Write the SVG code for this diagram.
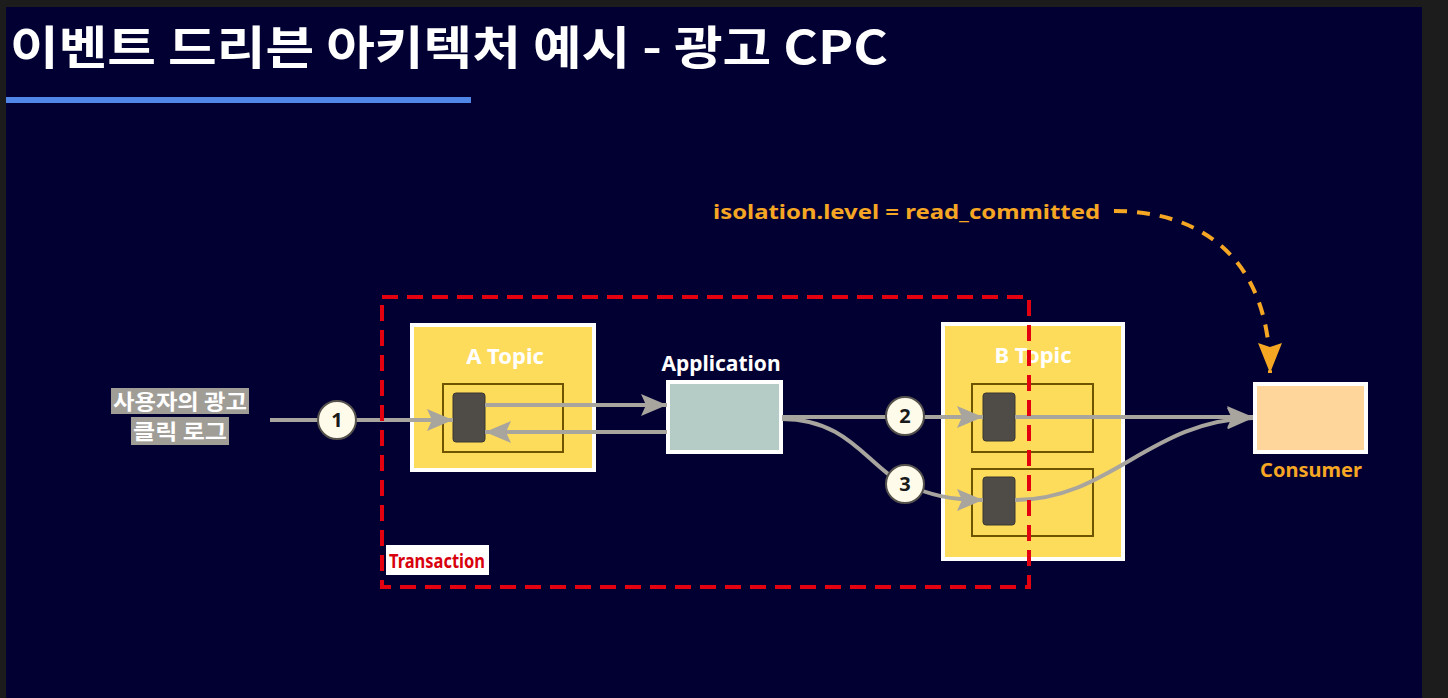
<svg xmlns="http://www.w3.org/2000/svg" width="1448" height="698" viewBox="0 0 1448 698">
<style>
.lbl{font-family:"Noto Sans","Liberation Sans",sans-serif;font-weight:bold}
.kr{font-family:"Noto Sans CJK KR","Noto Sans",sans-serif;font-weight:bold}
.topic{fill:#fddc5c;stroke:#ffffff;stroke-width:4}
.part{fill:none;stroke:#6e5400;stroke-width:2}
.blk{fill:#4f4b46;stroke:#3a3631;stroke-width:1}
.conn{fill:none;stroke:#a8a49e;stroke-width:4}
.num{fill:#fffbea;stroke:#55524d;stroke-width:2}
.numt{font-family:"Noto Sans","Liberation Sans",sans-serif;font-weight:bold;font-size:20px;fill:#1a1a1a;text-anchor:middle}
</style>
<defs>
<marker id="ah" markerUnits="userSpaceOnUse" markerWidth="28" markerHeight="22" refX="26" refY="11" orient="auto">
<path d="M0,0 L26,11 L0,22 L5,11 Z" fill="#a8a49e"/>
</marker>
<marker id="oh" markerUnits="userSpaceOnUse" markerWidth="32" markerHeight="26" refX="30" refY="12" orient="auto">
<path d="M0,0 L30,12 L0,24 L4,12 Z" fill="#f5a623"/>
</marker>
</defs>
<rect x="0" y="0" width="1448" height="698" fill="#1c1c1c"/>
<rect x="6" y="7" width="1416" height="691" fill="#020033"/>
<text x="10" y="64" class="kr" font-size="46" fill="#ffffff" textLength="878" lengthAdjust="spacingAndGlyphs">이벤트 드리븐 아키텍처 예시 - 광고 CPC</text>
<rect x="6" y="97" width="465" height="6" fill="#4f86e8"/>

<g id="input">
<rect x="111" y="388" width="138" height="26" fill="#a09d97"/>
<rect x="131" y="417" width="98" height="28" fill="#a09d97"/>
<text x="180" y="409" class="kr" font-size="21" fill="#ffffff" text-anchor="middle" textLength="134" lengthAdjust="spacingAndGlyphs">사용자의 광고</text>
<text x="180" y="439" class="kr" font-size="21" fill="#ffffff" text-anchor="middle" textLength="94" lengthAdjust="spacingAndGlyphs">클릭 로그</text>
</g>

<g id="a-topic">
<rect x="412" y="325" width="182" height="145" class="topic"/>
<text x="505" y="364" class="lbl" font-size="22" fill="#ffffff" text-anchor="middle">A Topic</text>
<rect x="443" y="384" width="120" height="68" class="part"/>
<rect x="453" y="393" width="32" height="49" rx="3" class="blk"/>
</g>

<g id="application">
<text x="721" y="371" class="lbl" font-size="21" fill="#ffffff" text-anchor="middle">Application</text>
<rect x="668" y="382" width="113" height="70" fill="#b4cbc6" stroke="#ffffff" stroke-width="4"/>
</g>

<g id="b-topic">
<rect x="943" y="324" width="180" height="235" class="topic"/>
<text x="1033" y="363" class="lbl" font-size="22" fill="#ffffff" text-anchor="middle">B Topic</text>
<rect x="972" y="384" width="121" height="68" class="part"/>
<rect x="972" y="469" width="121" height="67" class="part"/>
<rect x="983" y="393" width="32" height="48" rx="3" class="blk"/>
<rect x="983" y="477" width="32" height="48" rx="3" class="blk"/>
</g>

<g id="consumer">
<rect x="1255" y="384" width="111" height="68" fill="#fed59a" stroke="#ffffff" stroke-width="4"/>
<text x="1311" y="477" class="lbl" font-size="20" fill="#f5a623" text-anchor="middle">Consumer</text>
</g>

<g id="isolation">
<text x="713" y="219" class="lbl" font-size="20" fill="#f5a623" textLength="387" lengthAdjust="spacingAndGlyphs">isolation.level = read_committed</text>
</g>

<g id="connectors">
<path d="M270,420 L453,420" class="conn" marker-end="url(#ah)"/>
<path d="M485,405 L667,405" class="conn" marker-end="url(#ah)"/>
<path d="M667,432 L485,432" class="conn" marker-end="url(#ah)"/>
<path d="M782,417 L983,417" class="conn" marker-end="url(#ah)"/>
<path d="M782,419 C850,419 868,468 905,484 C930,495 950,500 983,500" class="conn" marker-end="url(#ah)"/>
<path d="M1015,417 L1253,417" class="conn" marker-end="url(#ah)"/>
<path d="M1015,500 C1110,500 1150,420 1253,418" class="conn" marker-end="url(#ah)"/>
<path d="M1114,211 C1205,211 1270,262 1270,373" fill="none" stroke="#f5a623" stroke-width="4" stroke-dasharray="13,10" marker-end="url(#oh)"/>
</g>

<g id="step-1"><circle cx="337" cy="420" r="19" class="num"/><text x="337" y="427" class="numt">1</text></g>
<g id="step-2"><circle cx="905" cy="416" r="19" class="num"/><text x="905" y="423" class="numt">2</text></g>
<g id="step-3"><circle cx="905" cy="484" r="19" class="num"/><text x="905" y="491" class="numt">3</text></g>

<g id="transaction">
<rect x="382" y="297" width="647" height="290" fill="none" stroke="#e3000f" stroke-width="4" stroke-dasharray="16,9"/>
<rect x="386" y="545" width="103" height="30" fill="#ffffff"/>
<text x="437" y="568" class="lbl" font-size="19" fill="#d8000c" text-anchor="middle" textLength="96" lengthAdjust="spacingAndGlyphs">Transaction</text>
</g>
</svg>
